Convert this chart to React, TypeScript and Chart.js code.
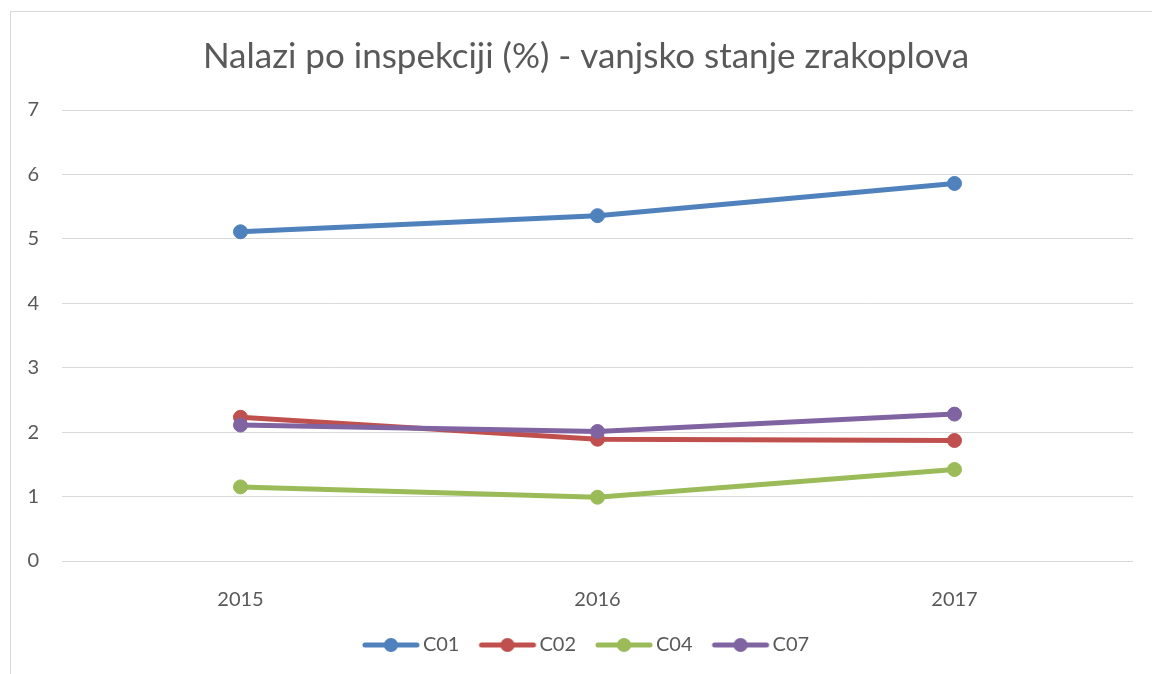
import { useEffect, useRef } from "react";
import { Chart, registerables } from "chart.js";

Chart.register(...registerables);

const chartTitle = "Nalazi po inspekciji (%) - vanjsko stanje zrakoplova";
const categories = ["2015", "2016", "2017"];
const seriesNames = ["C01", "C02", "C04", "C07"];
const c01 = [5.11, 5.36, 5.86];
const c02 = [2.23, 1.89, 1.87];
const c04 = [1.15, 0.99, 1.42];
const c07 = [2.11, 2.01, 2.28];
const seriesColors = ["#4F81BD", "#C0504D", "#9BBB59", "#8064A2"];
const yMin = 0;
const yMax = 7;
const yStep = 1;

const FONT = "Lato, 'Open Sans', sans-serif";
const TEXT = "#595959";
const GRID = "#D9D9D9";

function legendSymbol(color: string): HTMLCanvasElement {
  const c = document.createElement("canvas");
  c.width = 66;
  c.height = 16;
  const g = c.getContext("2d")!;
  g.strokeStyle = color;
  g.lineWidth = 5;
  g.lineCap = "round";
  g.beginPath();
  g.moveTo(10, 8);
  g.lineTo(62, 8);
  g.stroke();
  g.fillStyle = color;
  g.beginPath();
  g.arc(36, 8, 7, 0, Math.PI * 2);
  g.fill();
  return c;
}

export default function App() {
  const ref = useRef<HTMLCanvasElement | null>(null);

  useEffect(() => {
    if (!ref.current) return;
    const values = [c01, c02, c04, c07];
    const symbols = seriesColors.map(legendSymbol);
    const chart = new Chart(ref.current, {
      type: "line",
      data: {
        labels: categories,
        datasets: seriesNames.map((name, i) => ({
          label: name,
          data: values[i],
          borderColor: seriesColors[i],
          backgroundColor: seriesColors[i],
          pointBackgroundColor: seriesColors[i],
          pointBorderColor: seriesColors[i],
          borderWidth: 5,
          pointRadius: 7,
          pointBorderWidth: 1,
          tension: 0,
          fill: false,
          order: seriesNames.length - i,
          yAxisID: "y",
        })),
      },
      options: {
        responsive: false,
        animation: false,
        events: [],
        layout: { padding: { top: 0, bottom: 9, left: 0, right: 0 } },
        plugins: {
          title: {
            display: true,
            text: chartTitle,
            color: TEXT,
            font: { family: FONT, size: 35, weight: "normal", lineHeight: 1.2 },
            padding: { top: 24, bottom: 32 },
          },
          legend: {
            display: true,
            position: "bottom",
            labels: {
              color: TEXT,
              font: { family: FONT, size: 20 },
              usePointStyle: true,
              pointStyleWidth: 50,
              padding: 20,
              generateLabels: (ch: any) =>
                ch.data.datasets.map((ds: any, i: number) => ({
                  text: ds.label,
                  fillStyle: seriesColors[i],
                  strokeStyle: seriesColors[i],
                  fontColor: TEXT,
                  lineWidth: 0,
                  pointStyle: symbols[i],
                  hidden: false,
                  datasetIndex: i,
                })),
            },
          },
          tooltip: { enabled: false },
        },
        scales: {
          x: {
            offset: true,
            grid: { display: false },
            border: { display: false },
            ticks: {
              color: TEXT,
              font: { family: FONT, size: 20 },
              padding: 19,
            },
            afterFit: (s: any) => {
              s.height = 54;
            },
          },
          y: {
            min: yMin,
            max: yMax,
            grid: { color: GRID, lineWidth: 1, drawTicks: false },
            border: { display: false },
            ticks: {
              stepSize: yStep,
              color: TEXT,
              font: { family: FONT, size: 20 },
              padding: 23,
            },
            afterFit: (s: any) => {
              s.width = 51;
            },
          },
          yRight: {
            position: "right",
            display: true,
            min: yMin,
            max: yMax,
            grid: { display: false, drawTicks: false },
            border: { display: false },
            ticks: { display: false },
            afterFit: (s: any) => {
              s.width = 28;
            },
          },
        },
      },
    });
    return () => chart.destroy();
  }, []);

  return (
    <div
      style={{
        position: "absolute",
        left: 0,
        top: 0,
        width: 1152,
        height: 674,
        overflow: "hidden",
        background: "#fff",
      }}
    >
      <div
        style={{
          position: "absolute",
          left: 10,
          top: 11,
          width: 1150,
          height: 662,
          borderLeft: `1px solid ${GRID}`,
          borderTop: `1px solid ${GRID}`,
        }}
      >
        <canvas ref={ref} width={1150} height={662} style={{ display: "block" }} />
      </div>
    </div>
  );
}
